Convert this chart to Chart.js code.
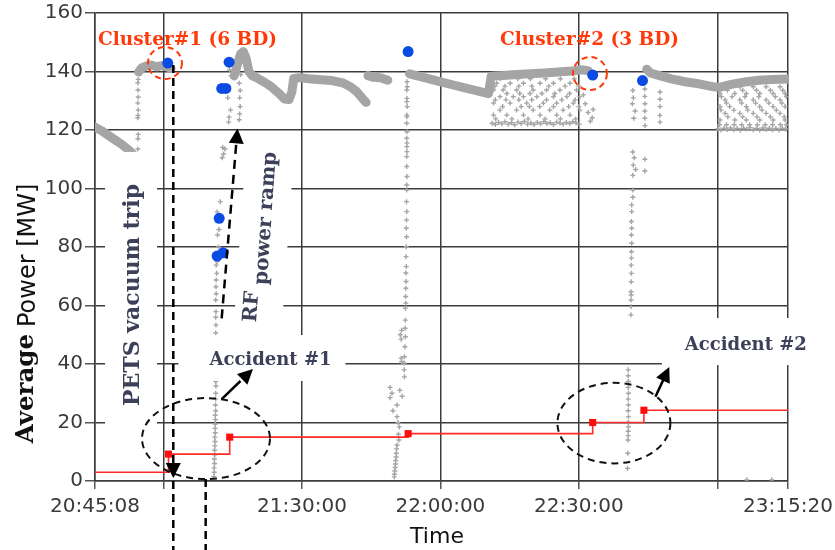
<!DOCTYPE html>
<html>
<head>
<meta charset="utf-8">
<script src="https://cdn.jsdelivr.net/npm/chart.js@4.4.0/dist/chart.umd.min.js"></script>
<style>
  html, body { margin: 0; padding: 0; background: #fff; }
  #wrap { width: 835px; height: 550px; }
</style>
</head>
<body>
<div id="wrap"><canvas id="powerChart" width="835" height="550"></canvas></div>
<script>
// x values are minutes after 20:00
const tickMinutes = [45.1333, 60, 90, 120, 150, 180, 195.3333];
const tickLabels = ['20:45:08', '', '21:30:00', '22:00:00', '22:30:00', '', '23:15:20'];
const powerTicks = [0, 20, 40, 60, 80, 100, 120, 140, 160];

// averaged RF power, continuous stretches (null breaks the line)
const powerTrace = [
  [45.13, 121.0], [46.5, 119.8], [48.0, 118.2], [49.5, 116.6], [51.0, 115.0], [52.7, 112.8], [54.0, 110.5],
  [54.2, null],
  [54.6, 139.8], [55.2, 141.2], [56.2, 141.8], [57.3, 142.2], [58.5, 141.6], [59.5, 142.0], [60.5, 141.8], [61.6, 141.0],
  [62.0, null],
  [75.3, 138.5], [76.0, 142.5], [76.7, 146.0], [77.3, 146.8], [77.9, 144.5], [78.5, 140.0], [79.2, 138.6],
  [80.5, 137.6], [82.0, 136.2], [83.5, 134.6], [85.0, 132.5], [86.2, 130.6], [87.2, 130.4], [87.8, 133.0],
  [88.2, 137.6], [89.5, 137.9], [91.5, 137.5], [94.0, 137.2], [96.5, 136.9], [99.0, 136.0], [100.5, 134.8],
  [101.8, 133.2], [103.0, 131.0], [103.9, 129.4],
  [104.1, null],
  [104.3, 138.6], [105.5, 138.0], [107.0, 137.9], [108.6, 137.0],
  [109.0, null],
  [113.3, 139.2], [115.5, 138.3], [118.0, 137.3], [120.5, 136.3], [123.0, 135.3], [125.5, 134.3], [128.0, 133.4],
  [130.4, 132.4], [131.0, 138.4], [133.5, 138.6], [136.5, 139.0], [139.5, 139.2], [142.5, 139.5], [145.5, 139.8],
  [148.5, 140.2], [150.5, 140.6], [152.0, 140.3],
  [152.5, null],
  [164.7, 140.8], [165.5, 139.5], [167.5, 138.6], [170.0, 137.5], [173.0, 136.5], [176.0, 135.8], [179.0, 134.8],
  [180.5, 134.6], [183.0, 135.6], [186.0, 136.4], [189.0, 137.0], [192.0, 137.3], [195.33, 137.4]
];

// single samples during trips and ramps
const powerSamples = [
  // first ramp before cluster #1
  [54.4, 113.5], [54.45, 117.0], [54.5, 118.5], [54.4, 124.2], [54.45, 125.0], [54.5, 126.8], [54.4, 129.2],
  [54.5, 131.3], [54.45, 133.7], [54.4, 136.1], [54.5, 137.3],
  // ramp after the vacuum trip
  [70.9, 1.5], [71.0, 3.0], [70.95, 4.5], [71.05, 6.0], [71.0, 7.5], [71.1, 9.0], [71.05, 10.5], [71.1, 12.0],
  [71.15, 13.5], [71.1, 15.0], [71.2, 16.5], [71.15, 18.0], [71.2, 19.5], [71.25, 21.0], [71.2, 22.5], [71.3, 24.0],
  [71.25, 26.0], [71.3, 28.0], [71.3, 30.0], [71.35, 32.5], [71.3, 34.0],
  [71.3, 50.6], [71.35, 53.3], [71.3, 56.0], [71.35, 57.9], [71.3, 61.9], [71.4, 64.0], [71.35, 66.4], [71.4, 68.7],
  [71.5, 71.0], [71.4, 73.8], [71.6, 75.0], [71.9, 80.0], [71.7, 84.1], [72.0, 86.0], [71.6, 92.0], [72.3, 95.5],
  [72.7, 110.5], [73.0, 111.8], [73.3, 113.5], [72.8, 114.0], [74.1, 122.7], [74.2, 124.4], [74.5, 126.8],
  [73.9, 131.0], [74.6, 138.5], [74.3, 140.5],
  [76.4, 123.5], [76.5, 125.5], [76.6, 128.0], [76.5, 131.0], [76.6, 133.5], [76.4, 136.0], [76.7, 139.0],
  // trip near 22:00
  [112.75, 136.5], [112.8, 134.8], [112.7, 133.7], [112.75, 130.8], [112.7, 129.7], [112.8, 128.0], [112.7, 125.1],
  [112.75, 124.5], [112.7, 122.3], [112.75, 119.4], [112.7, 117.2], [112.75, 115.5], [112.7, 114.3], [112.75, 112.6],
  [112.7, 110.9], [112.7, 107.5], [112.75, 104.1], [112.7, 101.2], [112.7, 99.5], [112.65, 95.5], [112.7, 92.1],
  [112.65, 89.2], [112.6, 86.4], [112.65, 83.5], [112.6, 80.1], [112.55, 76.7], [112.6, 73.3], [112.5, 71.1],
  [112.55, 68.2], [112.5, 65.9], [112.45, 63.1], [112.5, 60.8], [112.4, 59.1], [112.4, 55.0], [112.35, 52.2],
  [112.4, 49.3], [112.3, 45.9], [112.2, 42.5], [112.2, 40.3], [112.15, 38.0], [112.2, 35.6],
  [111.3, 50.0], [111.5, 48.5], [111.6, 51.5], [111.5, 42.0], [111.6, 40.8],
  [109.1, 32.0], [109.5, 30.0], [109.1, 28.5], [111.2, 31.0], [111.7, 29.0], [110.6, 26.0], [109.7, 24.0],
  [110.6, 22.0], [110.8, 20.0], [111.1, 18.5], [110.9, 16.0], [111.0, 14.0],
  [110.6, 12.3], [110.5, 11.0], [110.45, 9.5], [110.4, 8.2], [110.3, 7.0], [110.25, 5.8], [110.2, 4.6],
  [110.1, 3.4], [110.05, 2.3], [110.0, 1.4],
  // pulse-to-pulse spread 22:11 - 22:30
  [133.0, 137.5], [136.8, 137.5], [139.5, 137.5], [142.8, 137.5], [146.0, 137.5], [149.0, 137.5],
  [132.2, 136.0], [135.1, 136.0], [138.0, 136.0], [141.6, 136.0], [144.5, 136.0], [148.1, 136.0],
  [131.8, 135.0], [134.0, 135.0], [137.0, 135.0], [139.8, 135.0], [143.5, 135.0], [147.0, 135.0], [150.0, 135.0],
  [131.5, 133.7], [133.6, 133.7], [136.5, 133.7], [140.1, 133.7], [143.0, 133.7], [145.9, 133.7], [149.5, 133.7],
  [134.4, 132.5], [137.2, 132.5], [139.4, 132.5], [142.0, 132.5], [144.8, 132.5], [148.0, 132.5],
  [132.9, 131.4], [135.8, 131.4], [138.0, 131.4], [140.9, 131.4], [144.5, 131.4], [147.4, 131.4], [150.2, 131.4],
  [131.9, 130.3], [134.2, 130.3], [137.0, 130.3], [139.8, 130.3], [143.0, 130.3], [146.3, 130.3], [149.2, 130.3],
  [131.5, 129.2], [135.1, 129.2], [138.7, 129.2], [142.3, 129.2], [145.2, 129.2], [148.8, 129.2],
  [133.5, 128.0], [137.5, 128.0], [139.3, 128.0], [141.5, 128.0], [144.5, 128.0], [147.8, 128.0], [150.0, 128.0],
  [132.9, 126.8], [136.5, 126.8], [140.1, 126.8], [143.7, 126.8], [146.6, 126.8], [150.2, 126.8],
  [131.5, 125.1], [134.4, 125.1], [138.0, 125.1], [141.6, 125.1], [145.2, 125.1], [148.1, 125.1],
  [132.0, 123.8], [135.5, 123.8], [139.0, 123.8], [142.7, 123.8], [146.0, 123.8], [149.3, 123.8],
  [131.2, 122.3], [131.9, 121.9], [132.6, 122.6], [133.3, 122.1], [134.0, 122.8], [134.7, 122.0], [135.4, 122.5],
  [136.1, 121.8], [136.8, 122.7], [137.5, 122.2], [138.2, 122.9], [138.9, 122.0], [139.6, 122.4], [140.3, 121.9],
  [141.0, 122.6], [141.7, 122.1], [142.4, 122.8], [143.1, 122.2], [143.8, 122.5], [144.5, 121.9], [145.2, 122.7],
  [145.9, 122.3], [146.6, 122.0], [147.3, 122.6], [148.0, 122.2], [148.7, 122.8], [149.4, 122.4], [150.1, 122.0],
  [151.0, 132.0], [151.4, 129.0], [152.0, 126.0], [152.5, 123.0], [152.9, 124.2], [153.1, 127.0],
  // trip after cluster #2
  [161.7, 133.5], [161.8, 131.0], [161.6, 129.0], [162.2, 126.5], [161.9, 124.0],
  [164.3, 134.0], [164.3, 131.5], [164.35, 129.0], [164.3, 126.5], [164.3, 124.0], [164.35, 121.5],
  [167.6, 133.0], [167.6, 130.5], [167.6, 128.0], [167.55, 125.0], [167.6, 122.7],
  [161.7, 112.5], [162.0, 110.5], [161.8, 108.0], [162.3, 106.5], [161.7, 104.5], [164.3, 110.0], [164.3, 106.0],
  [161.7, 99.5], [161.7, 97.0],
  [161.45, 94.4], [161.45, 92.1], [161.4, 88.7], [161.45, 86.4], [161.4, 84.1], [161.45, 81.3], [161.4, 78.4],
  [161.4, 76.2], [161.35, 73.8], [161.4, 71.0], [161.35, 68.1], [161.3, 64.7], [161.35, 63.6], [161.3, 61.9],
  [161.3, 59.6], [161.3, 56.8],
  [160.7, 38.0], [160.7, 36.0], [160.75, 34.0], [160.7, 32.0], [160.75, 30.0], [160.7, 28.0], [160.75, 26.0],
  [160.7, 24.0], [160.75, 22.0], [160.7, 20.0], [160.75, 18.5], [160.7, 17.0], [160.7, 15.5], [160.65, 14.0],
  [160.6, 9.5], [160.55, 4.3],
  // pulse-to-pulse spread after 23:00
  [181.7, 134.8], [184.9, 134.8], [187.8, 134.8], [190.6, 134.8], [193.6, 134.8],
  [182.2, 133.6], [185.5, 133.6], [188.5, 133.6], [191.5, 133.6], [194.2, 133.6],
  [180.6, 132.5], [183.8, 132.5], [186.3, 132.5], [189.2, 132.5], [192.1, 132.5], [194.7, 132.5],
  [180.9, 131.4], [183.2, 131.4], [186.0, 131.4], [189.0, 131.4], [192.6, 131.4], [195.0, 131.4],
  [181.7, 130.3], [184.9, 130.3], [187.8, 130.3], [190.6, 130.3], [193.6, 130.3],
  [182.0, 129.2], [185.3, 129.2], [188.3, 129.2], [191.2, 129.2], [194.0, 129.2],
  [180.6, 128.0], [182.7, 128.0], [186.3, 128.0], [189.2, 128.0], [192.1, 128.0], [194.7, 128.0],
  [180.8, 126.8], [183.6, 126.8], [186.6, 126.8], [189.7, 126.8], [192.8, 126.8],
  [181.7, 125.7], [184.9, 125.7], [187.8, 125.7], [190.6, 125.7], [193.6, 125.7],
  [182.3, 124.5], [185.5, 124.5], [188.6, 124.5], [191.5, 124.5], [194.5, 124.5],
  [180.6, 123.4], [183.8, 123.4], [186.3, 123.4], [189.2, 123.4], [192.1, 123.4], [194.7, 123.4],
  [180.5, 121.8], [182.0, 121.8], [183.7, 121.8], [185.3, 121.8], [187.0, 121.8], [188.7, 121.8], [190.4, 121.8],
  [192.0, 121.8], [193.7, 121.8], [195.0, 121.8],
  [180.1, 120.4], [180.8, 120.0], [181.5, 120.6], [182.2, 120.2], [182.9, 120.7], [183.6, 120.1], [184.3, 120.5],
  [185.0, 119.9], [185.7, 120.6], [186.4, 120.3], [187.1, 120.8], [187.8, 120.1], [188.5, 120.5], [189.2, 120.0],
  [189.9, 120.7], [190.6, 120.2], [191.3, 120.6], [192.0, 120.1], [192.7, 120.5], [193.4, 120.0], [194.1, 120.6],
  [194.8, 120.3],
  [186.4, 0.4], [191.8, 0.4]
];

// breakdown events
const bdTime = [60.9, 71.6, 72.9, 72.05, 72.6, 73.5, 74.2, 113.0, 153.0, 163.8];
const bdPower = [142.9, 76.9, 78.0, 89.8, 134.2, 134.2, 143.2, 146.8, 138.8, 136.9];

// stepped red trace
const stepTime = [45.1333, 61.06, 74.33, 113.0, 153.0, 164.1, 195.3333];
const stepLevel = [3.0, 9.2, 15.0, 16.2, 20.0, 24.2, 24.2];

const gray = '#a5a5a5';
const slate = '#3d4059';
const orange = '#ff3a0a';

function arrowHead(ctx, x0, y0, x1, y1, len, half) {
  const a = Math.atan2(y1 - y0, x1 - x0);
  const bx = x1 - len * Math.cos(a), by = y1 - len * Math.sin(a);
  ctx.beginPath();
  ctx.moveTo(x1, y1);
  ctx.lineTo(bx + half * Math.sin(a), by - half * Math.cos(a));
  ctx.lineTo(bx - half * Math.sin(a), by + half * Math.cos(a));
  ctx.closePath();
  ctx.fill();
}

function dashedEllipse(ctx, cx, cy, rx, ry, color, width, dash) {
  ctx.save();
  ctx.strokeStyle = color;
  ctx.lineWidth = width;
  ctx.setLineDash(dash);
  ctx.beginPath();
  ctx.ellipse(cx, cy, rx, ry, 0, 0, Math.PI * 2);
  ctx.stroke();
  ctx.restore();
}

const annotate = {
  id: 'annotate',
  afterDatasetsDraw(chart) {
    const { ctx, scales: { x, y } } = chart;
    const px = m => x.getPixelForValue(m);
    const py = v => y.getPixelForValue(v);
    ctx.save();

    // white label backgrounds
    ctx.fillStyle = '#fff';
    ctx.fillRect(px(47.3), py(112.5), 52, 283);
    ctx.fillRect(px(81.2) - 83, py(42.05) - 23, 167, 46);
    ctx.fillRect(px(186.2) - 84, py(47.5) - 24, 170, 47);

    // RF ramp label, tilted along the arrow
    ctx.save();
    ctx.translate(px(81.33), py(83.4));
    ctx.rotate(-86 * Math.PI / 180);
    ctx.fillRect(-98, -22, 196, 48);
    ctx.fillStyle = slate;
    ctx.font = 'bold 20px "DejaVu Serif"';
    ctx.textBaseline = 'alphabetic';
    ctx.textAlign = 'left';
    const rf = 'RF', rest = ' power ramp';
    const total = ctx.measureText(rf).width + ctx.measureText(rest).width;
    ctx.fillText(rf, -total / 2, 0);
    ctx.fillText(rest, -total / 2 + ctx.measureText(rf).width, 8);
    ctx.restore();

    // dashed ellipses around the accidents
    dashedEllipse(ctx, px(69.19), py(14.5), 64, 40.5, '#111', 2, [7, 5]);
    dashedEllipse(ctx, px(157.6), py(19.8), 56.5, 40.3, '#111', 2, [7, 5]);

    // cluster circles
    dashedEllipse(ctx, px(60.3), py(142.9), 17, 16, orange, 2, [6, 4]);
    dashedEllipse(ctx, px(152.4), py(139.3), 17, 16.5, orange, 2, [6, 4]);

    ctx.fillStyle = '#000';
    ctx.strokeStyle = '#000';

    // vacuum trip marker, runs below the axis
    const tx = px(62.1);
    ctx.save();
    ctx.lineWidth = 2.5;
    ctx.setLineDash([8, 5]);
    ctx.beginPath();
    ctx.moveTo(tx, py(142.2));
    ctx.lineTo(tx, 550);
    ctx.stroke();
    const tx2 = px(69.12);
    ctx.beginPath();
    ctx.moveTo(tx2, py(14.5) + 40.5);
    ctx.lineTo(tx2, 550);
    ctx.stroke();
    ctx.restore();
    arrowHead(ctx, tx, py(20), tx, py(1.0), 15, 7.5);

    // RF ramp arrow
    const r0 = [px(72.59), py(55.6)], r1 = [px(76.02), py(120.5)];
    ctx.save();
    ctx.lineWidth = 2.5;
    ctx.setLineDash([9, 6]);
    ctx.beginPath();
    ctx.moveTo(r0[0], r0[1]);
    ctx.lineTo(r1[0] - 0.07 * (r1[0] - r0[0]), r1[1] - 0.07 * (r1[1] - r0[1]));
    ctx.stroke();
    ctx.restore();
    arrowHead(ctx, r0[0], r0[1], r1[0], r1[1], 15, 7.5);

    // accident arrows
    [[72.59, 28.0, 79.38, 38.3], [166.6, 28.8, 169.6, 39.0]].forEach(([m0, v0, m1, v1]) => {
      const a0 = [px(m0), py(v0)], a1 = [px(m1), py(v1)];
      ctx.save();
      ctx.lineWidth = 2.5;
      ctx.beginPath();
      ctx.moveTo(a0[0], a0[1]);
      ctx.lineTo(a1[0] - 0.4 * (a1[0] - a0[0]), a1[1] - 0.4 * (a1[1] - a0[1]));
      ctx.stroke();
      ctx.restore();
      arrowHead(ctx, a0[0], a0[1], a1[0], a1[1], 15, 7.5);
    });

    // labels
    ctx.font = 'bold 18px "DejaVu Serif"';
    ctx.textAlign = 'center';
    ctx.textBaseline = 'alphabetic';
    ctx.fillStyle = slate;
    ctx.fillText('Accident #1', px(83.17), 365);
    ctx.fillText('Accident #2', px(186.2), 350);
    ctx.fillStyle = orange;
    ctx.font = 'bold 18.5px "DejaVu Serif"';
    ctx.fillText('Cluster#1 (6 BD)', px(65.18), 45);
    ctx.fillText('Cluster#2 (3 BD)', px(152.3), 45);

    ctx.save();
    ctx.translate(139, py(63.6));
    ctx.rotate(-Math.PI / 2);
    ctx.fillStyle = slate;
    ctx.font = 'bold 22px "DejaVu Serif"';
    ctx.fillText('PETS vacuum trip', 0, 0);
    ctx.restore();

    ctx.restore();
  },
  afterDraw(chart) {
    const { ctx } = chart;
    ctx.save();
    ctx.fillStyle = '#111';
    ctx.textBaseline = 'alphabetic';
    // y title: bold serif word followed by the plain quantity name
    ctx.save();
    ctx.translate(33, 334);
    ctx.rotate(-Math.PI / 2);
    ctx.textAlign = 'right';
    ctx.font = 'bold 24.5px "DejaVu Serif"';
    ctx.fillText('Average', 0, 0);
    ctx.restore();
    ctx.save();
    ctx.translate(35, 327);
    ctx.rotate(-Math.PI / 2);
    ctx.textAlign = 'left';
    ctx.font = '24px "DejaVu Sans"';
    ctx.fillText('Power [MW]', 0, 0);
    ctx.restore();
    ctx.textAlign = 'center';
    ctx.font = '22px "DejaVu Sans"';
    ctx.fillText('Time', 437, 543);
    ctx.restore();
  }
};

const toPoints = pairs => pairs.map(([m, v]) => ({ x: m, y: v }));

new Chart(document.getElementById('powerChart'), {
  type: 'scatter',
  data: {
    datasets: [
      {
        label: 'Breakdowns',
        data: bdTime.map((m, i) => ({ x: m, y: bdPower[i] })),
        pointStyle: 'circle',
        pointRadius: 5.5,
        backgroundColor: '#0a4be3',
        borderWidth: 0
      },
      {
        label: 'Step',
        type: 'line',
        data: stepTime.map((m, i) => ({ x: m, y: stepLevel[i] })),
        stepped: true,
        borderColor: '#ff2a2a',
        borderWidth: 1.6,
        pointStyle: 'rect',
        pointRadius: c => (c.dataIndex === 0 || c.dataIndex === stepTime.length - 1) ? 0 : 5,
        backgroundColor: '#ff0d0d',
        pointBorderWidth: 0
      },
      {
        label: 'Samples',
        data: toPoints(powerSamples),
        pointStyle: 'cross',
        pointRadius: 2.5,
        borderColor: gray,
        borderWidth: 1.4
      },
      {
        label: 'Power',
        type: 'line',
        data: toPoints(powerTrace),
        borderColor: gray,
        borderWidth: 9,
        borderCapStyle: 'round',
        borderJoinStyle: 'round',
        pointRadius: 0,
        spanGaps: false,
        tension: 0
      }
    ]
  },
  options: {
    responsive: false,
    animation: false,
    events: [],
    layout: { padding: { top: 13, right: 47, left: 0, bottom: 0 } },
    plugins: { legend: { display: false }, tooltip: { enabled: false } },
    scales: {
      x: {
        type: 'linear',
        min: tickMinutes[0],
        max: tickMinutes[tickMinutes.length - 1],
        afterBuildTicks: s => { s.ticks = tickMinutes.map(v => ({ value: v })); },
        afterFit: s => { s.height = 69; s.paddingLeft = 0; s.paddingRight = 0; },
        ticks: {
          autoSkip: false, maxRotation: 0, padding: 6, color: '#3a3a3a',
          font: { family: 'DejaVu Sans', size: 20 },
          callback: (v, i) => tickLabels[i]
        },
        grid: { color: '#3c3c3c', lineWidth: 1.5, tickLength: 8, tickColor: '#555' },
        border: { color: '#3c3c3c', width: 1.5 }
      },
      y: {
        min: 0,
        max: 160,
        afterBuildTicks: s => { s.ticks = powerTicks.map(v => ({ value: v })); },
        afterFit: s => { s.width = 95; s.paddingTop = 0; s.paddingBottom = 0; },
        ticks: {
          padding: 2, color: '#3a3a3a',
          font: { family: 'DejaVu Sans', size: 20 }
        },
        grid: { color: '#3c3c3c', lineWidth: 1.5, tickLength: 10, tickColor: '#555' },
        border: { color: '#3c3c3c', width: 1.5 }
      }
    }
  },
  plugins: [annotate]
});
</script>
</body>
</html>
